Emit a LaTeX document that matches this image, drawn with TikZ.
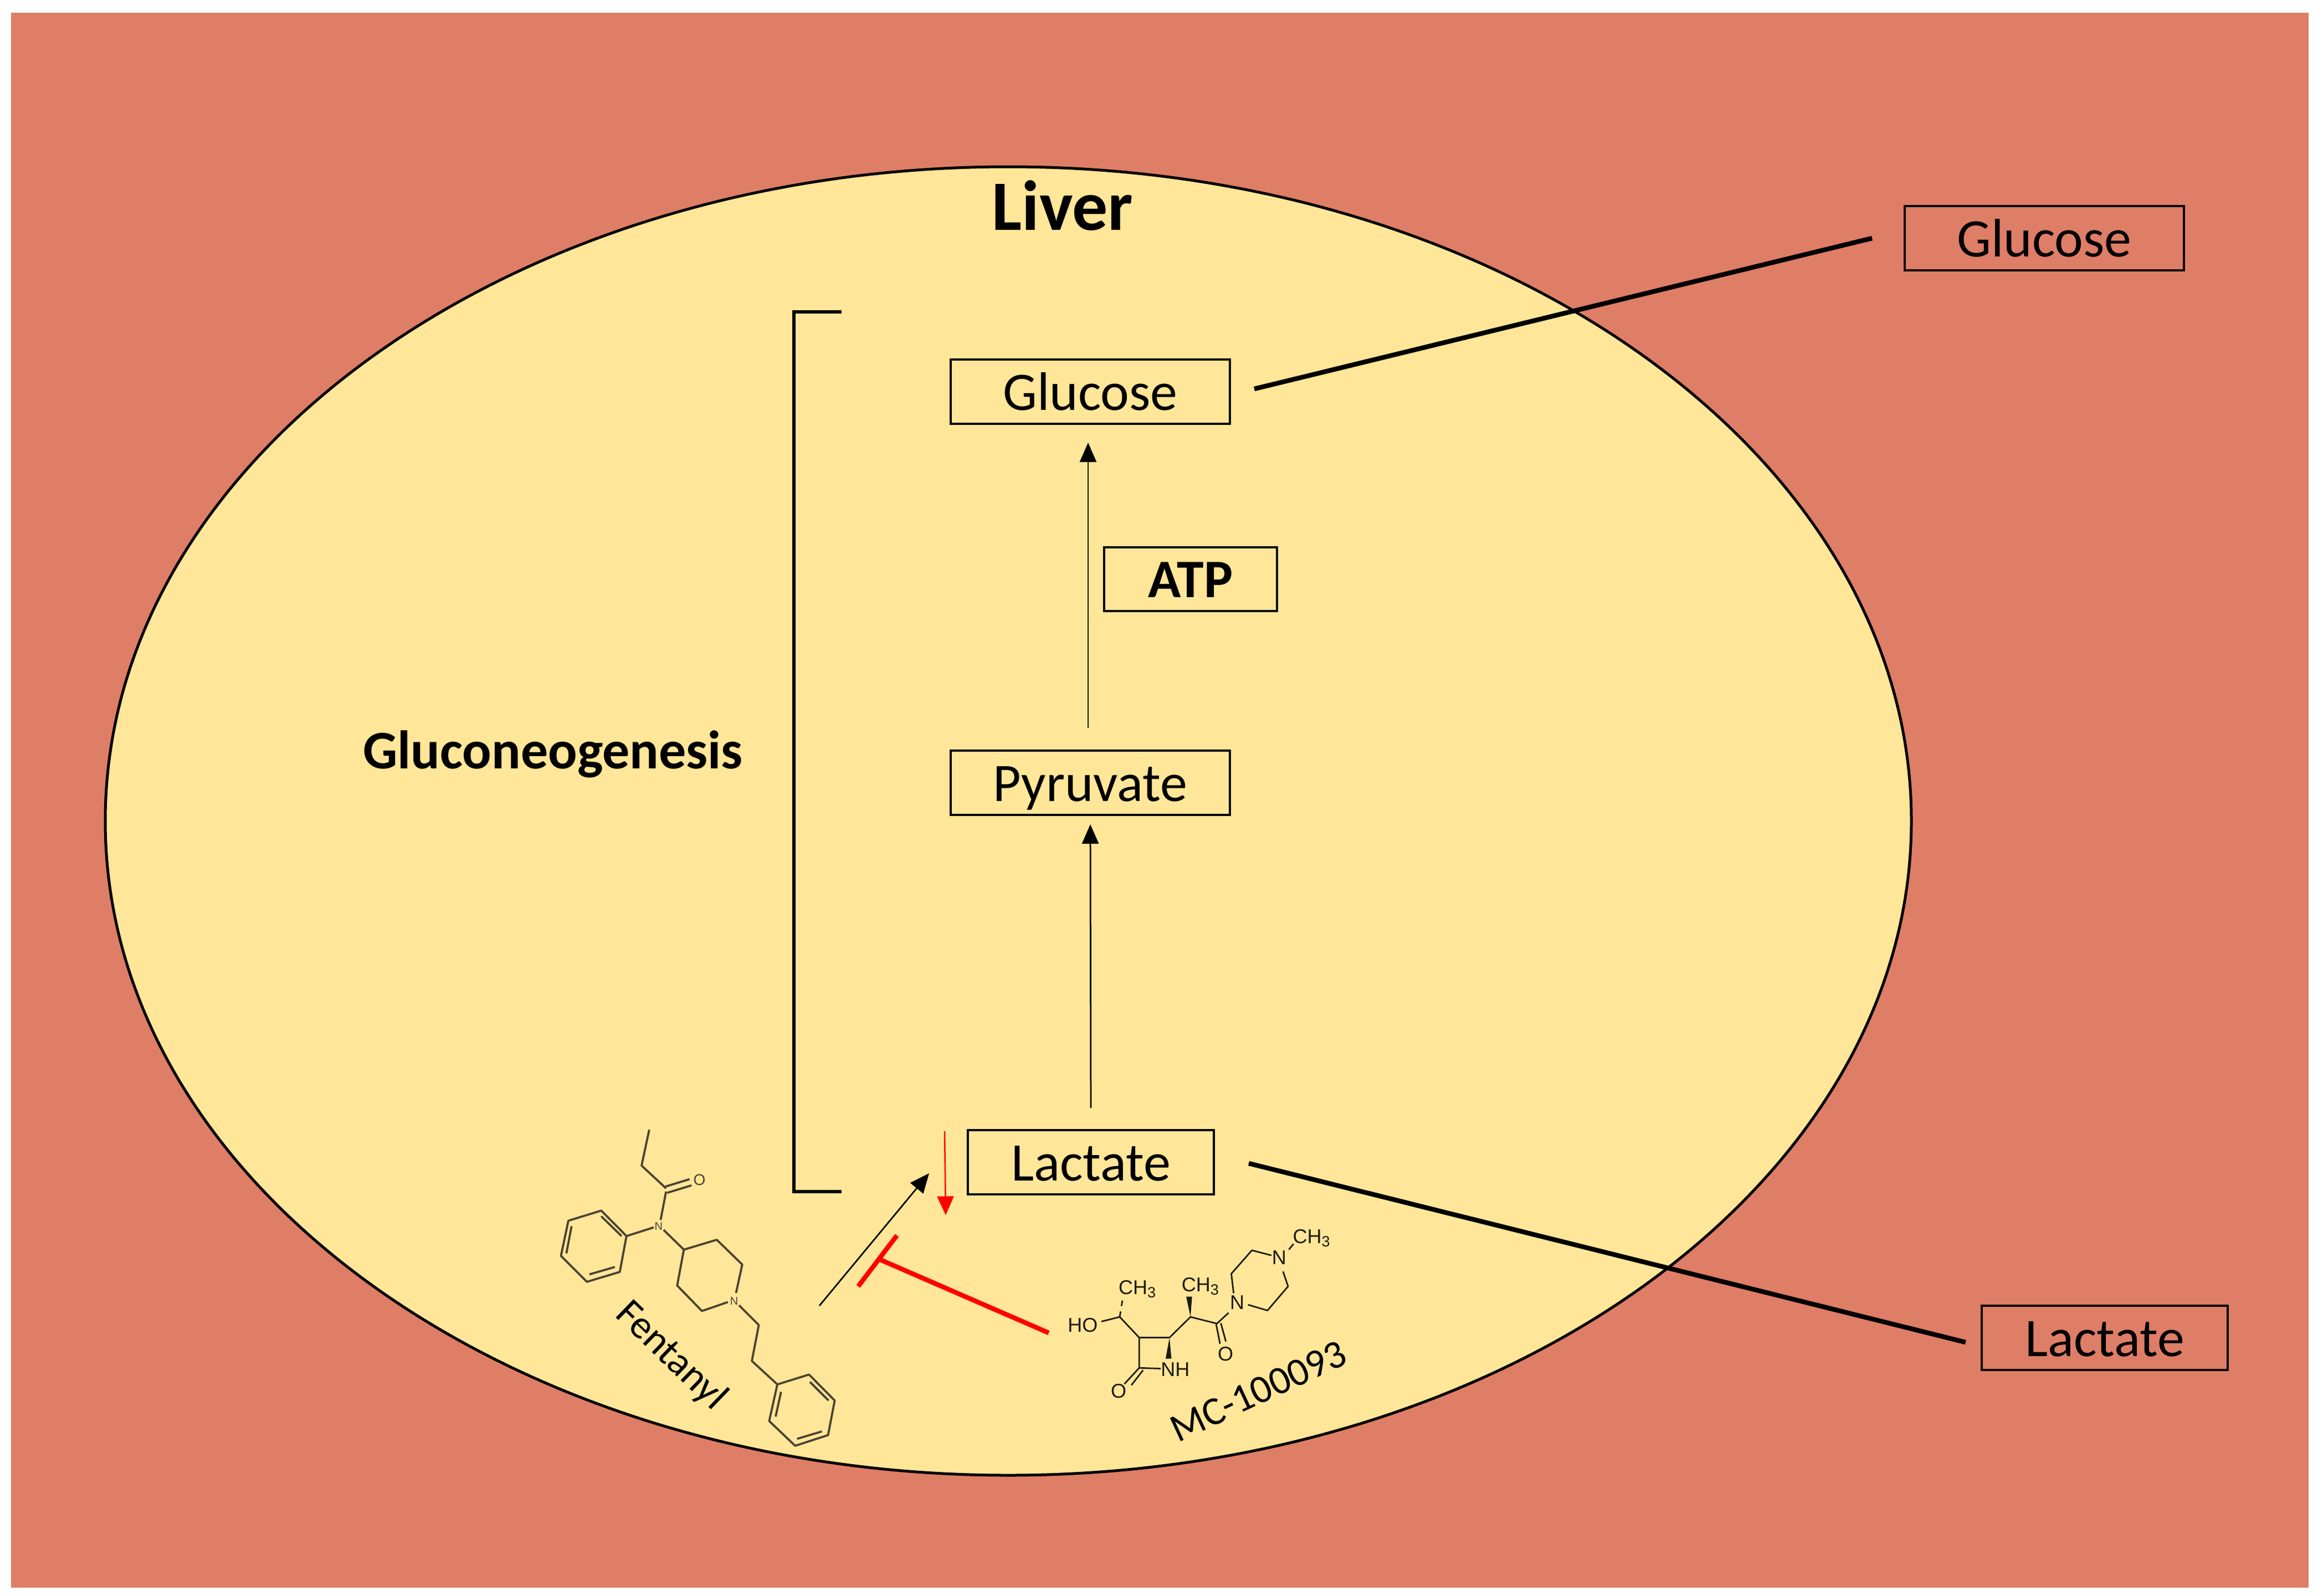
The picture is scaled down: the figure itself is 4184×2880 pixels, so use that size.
\documentclass[tikz,border=0pt]{standalone}
\usepackage{fontspec}
\setmainfont{Carlito}
\newfontfamily\molfont{Liberation Sans}
\usetikzlibrary{arrows.meta}
\definecolor{outerbg}{HTML}{DF7E66}
\definecolor{cellbg}{HTML}{FFE699}
\definecolor{molline}{HTML}{4A4232}
\definecolor{molpen}{HTML}{1E1A10}
\newcommand{\methyl}{CH{\fontsize{5.4}{6}\selectfont\raisebox{-1.2pt}{3}}}
\tikzset{
  x=0.2pt,y=-0.2pt,
  box/.style={draw=black,line width=0.8pt,inner sep=0pt,font=\fontsize{19.6}{24}\selectfont,text=black,text height=13.3pt,text depth=0pt},
  bigbox/.style={box,minimum width=100.8pt,minimum height=23.2pt},
  lacbox/.style={box,minimum width=88.8pt,minimum height=23.2pt},
  thick link/.style={draw=black,line width=1.7pt},
  thin arrow/.style={draw=black,line width=0.55pt,-{Triangle[length=7pt,width=6pt]}},
  red arrow/.style={draw=red,line width=0.5pt,-{Triangle[length=6.8pt,width=6pt]}},
  red stop/.style={draw=red,line width=1.7pt},
  bracket/.style={draw=black,line width=1.1pt},
  heading/.style={font=\bfseries\fontsize{19.6}{24}\selectfont,text=black,inner sep=0pt},
  tilted/.style={font=\fontsize{14.4}{18}\selectfont,text=black,inner sep=0pt},
  fenbond/.style={draw=molline,line width=0.75pt,line join=round},
  mcbond/.style={draw=molpen,line width=0.55pt,line join=round},
  atomf/.style={font=\molfont\fontsize{5.6}{6}\selectfont,text=molline,inner sep=0pt},
  atomm/.style={font=\molfont\fontsize{7.2}{8}\selectfont,text=molpen,inner sep=0pt},
}
\begin{document}
\begin{tikzpicture}
\useasboundingbox (0,0) rectangle (4184,2880);
\fill[white] (0,0) rectangle (4184,2880);
\fill[outerbg] (20,23) rectangle (4167,2866);
\draw[fill=cellbg,draw=black,line width=1pt] (1820,1482) ellipse [x radius=1630,y radius=1181];

% labels
\node[heading,font=\bfseries\fontsize{25.6}{30}\selectfont] (liver) at (1918,371) {Liver};
\node[heading] (gng) at (998,1361) {Gluconeogenesis};
\draw[bracket] (1519,563) -- (1433,563) -- (1433,2151) -- (1519,2151);

% boxes
\node[bigbox] (glu) at (1968,707) {Glucose};
\node[bigbox] (pyr) at (1968,1413) {Pyruvate};
\node[lacbox] (lac) at (1969,2098) {Lactate};
\node[box,minimum width=62.4pt,minimum height=23pt,font=\bfseries\fontsize{19.6}{24}\selectfont] (atp) at (2149,1045) {ATP};
\node[bigbox] (gluout) at (3690,430) {Glucose};
\node[lacbox] (lacout) at (3799,2415) {Lactate};

% connectors
\draw[thin arrow,shorten <=7.8pt,shorten >=6.4pt] ([xshift=-0.8pt]pyr.north) -- ([xshift=-0.8pt]glu.south);
\draw[thin arrow,shorten <=7.6pt,shorten >=3pt] (lac.north) -- (pyr.south);
\draw[thick link] ([shift={(42,-5)}]glu.east) -- ([shift={(-57,0)}]gluout.west);
\draw[thick link] ([shift={(61,2)}]lac.east) -- ([shift={(-27,8)}]lacout.west);

% drug effects
\coordinate (fenstart) at (1479,2357);
\coordinate (fentip) at (1677,2118);
\draw[thin arrow] (fenstart) -- (fentip);
\draw[red arrow] ([shift={(-264,-56)}]lac.center) -- ([shift={(-262,95.5)}]lac.center);
\coordinate (mcstart) at (1893,2406);
\coordinate (stopc) at (1588,2273.5);
\coordinate (stopa) at (1619,2230);
\coordinate (stopb) at (1549,2322);
\draw[red stop] (mcstart) -- (stopc);
\draw[red stop] (stopa) -- (stopb);

% Fentanyl
\begin{scope}[shift={(950,1950)},scale=0.4464]
\draw[fenbond] (497,200) -- (466,345) -- (565,437);
\draw[fenbond] (562,430) -- (660,400) (570,455) -- (668,425);
\draw[fenbond] (565,450) -- (543,565);
\draw[fenbond] (515,595) -- (405,630);
\draw[fenbond] (405,630) -- (303,527) -- (170,568) -- (140,710) -- (245,815) -- (378,775) -- cycle;
\draw[fenbond] (385,630) -- (303,550) (162,700) -- (183,590) (255,785) -- (358,755);
\draw[fenbond] (555,605) -- (637,685) -- (770,645) -- (873,745) -- (848,860);
\draw[fenbond] (637,685) -- (610,830) -- (710,933) -- (815,897);
\draw[fenbond] (860,910) -- (940,990) -- (912,1135) -- (1015,1230);
\draw[fenbond] (1015,1230) -- (1143,1190) -- (1247,1295) -- (1220,1435) -- (1087,1478) -- (982,1378) -- cycle;
\draw[fenbond] (1147,1220) -- (1222,1295) (1030,1260) -- (1008,1360) (1095,1450) -- (1195,1420);
\node[atomf] (fO) at (700,403) {O};
\node[atomf,font=\molfont\fontsize{4}{5}\selectfont] (fN1) at (535,590) {N};
\node[atomf,font=\molfont\fontsize{4}{5}\selectfont] (fN2) at (840,893) {N};
\end{scope}
\node[tilted,rotate=-44] (fenlabel) at (1211,2448) {Fentanyl};

% MC-100093
\begin{scope}[shift={(1400,1980)},xscale=0.7018,yscale=0.4146]
\draw[mcbond] (838,978) -- (885,958) -- (935,1048) -- (1013,1048) (935,1048) -- (935,1180) -- (990,1183);
\draw[mcbond,dashed,dash pattern=on 2pt off 2pt] (885,958) -- (893,875);
\fill[molpen] (1013,1048) -- (1003,1140) -- (1018,1140) -- cycle;
\draw[mcbond] (935,1180) -- (897,1250) (945,1190) -- (915,1255);
\draw[mcbond] (1013,1048) -- (1067,958) -- (1135,987) -- (1165,940);
\fill[molpen] (1067,958) -- (1056,870) -- (1071,870) -- cycle;
\draw[mcbond] (1133,990) -- (1143,1075) (1145,985) -- (1158,1065);
\draw[mcbond] (1178,855) -- (1172,770) -- (1225,668) -- (1275,690);
\draw[mcbond] (1305,760) -- (1318,825) -- (1265,930) -- (1215,905);
\draw[mcbond] (1320,665) -- (1332,640);
\node[atomm] (mHO) at (790,993) {HO};
\node[atomm] (mC1) at (930,838) {\methyl};
\node[atomm] (mC2) at (1092,825) {\methyl};
\node[atomm] (mC3) at (1378,615) {\methyl};
\node[atomm] (mN1) at (1295,700) {N};
\node[atomm] (mN2) at (1187,895) {N};
\node[atomm] (mNH) at (1028,1188) {NH};
\node[atomm] (mO1) at (882,1280) {O};
\node[atomm] (mO2) at (1157,1120) {O};
\end{scope}
\node[tilted,rotate=25] (mclabel) at (2271,2511) {MC-100093};
\end{tikzpicture}
\end{document}
